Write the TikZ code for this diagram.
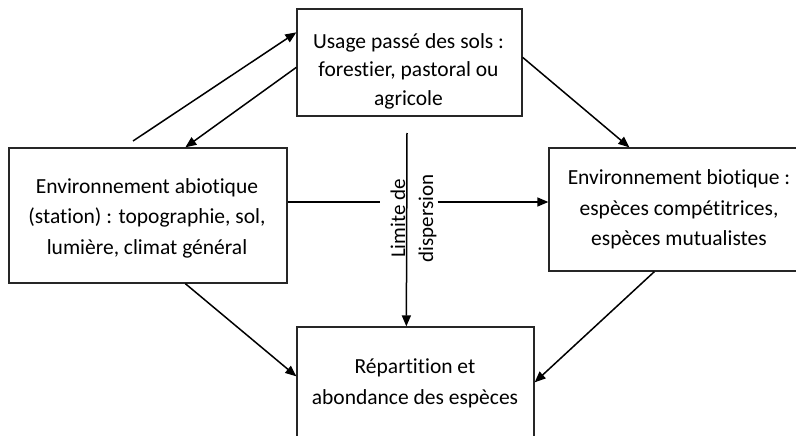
\documentclass[tikz,border=0pt]{standalone}
\usepackage{fontspec}
\setmainfont{Carlito}[Ligatures=NoCommon]
\usetikzlibrary{arrows.meta,calc}
\begin{document}
\begin{tikzpicture}[x=1pt,y=-1pt,
  boxst/.style={draw=black!85,line width=1.3pt,rectangle,inner sep=0pt},
  txt/.style={align=center,font=\fontsize{21.5}{30.5}\selectfont,inner sep=0pt},
  conn/.style={line width=1.5pt},
  arr/.style={conn,-{Triangle[length=11pt,width=9pt]}}]
\clip (0,0) rectangle (796,436);
\fill[white] (0,0) rectangle (796,436);
% boxes
\node[boxst,minimum width=225pt,minimum height=107pt] (top) at (409.5,62.5) {};
\node[boxst,minimum width=278pt,minimum height=135pt] (left) at (148,215.5) {};
\node[boxst,minimum width=260pt,minimum height=123pt] (right) at (679,209.5) {};
\node[boxst,minimum width=237pt,minimum height=140pt] (bot) at (415.5,397) {};
% texts
\node[txt,font=\fontsize{21.5}{28.5}\selectfont] (ttop) at (408.5,71) {Usage passé des sols :\\forestier, pastoral ou\\agricole};
\node[txt] (tleft) at (147,218) {Environnement abiotique\\(station) : topographie, sol,\\lumière, climat général};
\node[txt] (tright) at (679,209.5) {Environnement biotique :\\espèces compétitrices,\\espèces mutualistes};
\node[txt] (tbot) at (415,383.5) {Répartition et\\abondance des espèces};
\node[txt,font=\fontsize{21}{28}\selectfont,rotate=90] (lbl) at (413.5,218.5) {Limite de\\dispersion};
% connectors
\coordinate (a1) at (133,141);
\coordinate (v1) at (407,133);
\coordinate (hl) at (0,202);
\draw[arr] (a1) -- ($(top.north west)+(0,24)$);
\draw[arr] ($(top.north west)+(0,59)$) -- ($(left.north west)+(177,0)$);
\draw[arr] ($(top.north east)+(0,49)$) -- ($(right.north west)+(81,0)$);
\draw[conn] (left.east |- hl) -- ([xshift=-10.5pt]lbl.north |- hl);
\draw[arr] ([xshift=1pt]lbl.south |- hl) -- (right.west |- hl);
\draw[arr] (v1) -- ($(bot.north west)+(110,0)$);
\draw[arr] ($(left.south west)+(177,0)$) -- ($(bot.north west)+(0,50)$);
\draw[arr] ($(right.south west)+(106,0)$) -- ($(bot.north east)+(0,56)$);
\end{tikzpicture}
\end{document}
